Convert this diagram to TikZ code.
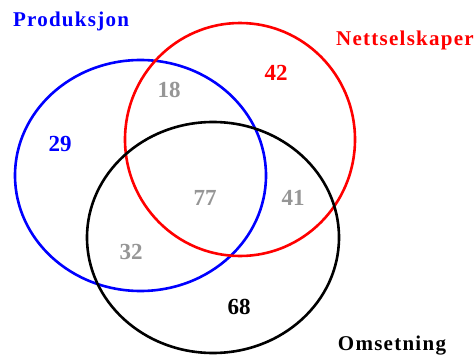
\documentclass[tikz,border=0pt]{standalone}
\usepackage{fontspec}
\setmainfont{Liberation Serif}
\newfontfamily\lblfont[LetterSpace=6]{Liberation Serif}
\definecolor{numgray}{RGB}{150,150,150}
\tikzset{
  ring/.style={line width=2.6pt},
  lbl/.style={font=\lblfont\fontsize{21}{21}\selectfont\bfseries, inner sep=0pt},
  num/.style={font=\fontsize{23}{23}\selectfont\bfseries, inner sep=0pt},
}
\begin{document}
\begin{tikzpicture}[x=1pt,y=-1pt]
\useasboundingbox (0,0) rectangle (474,356);
\fill[white] (0,0) rectangle (474,356);
\draw[ring, blue] (140.5,175.5) ellipse [x radius=125.5, y radius=115.5];
\draw[ring, red] (240,139.5) ellipse [x radius=115, y radius=116.5];
\draw[ring, black] (213,237.5) ellipse [x radius=126, y radius=115.5];
\node[lbl, blue, anchor=base] (prod) at (71,27) {Produksjon};
\node[lbl, red, anchor=base] (nett) at (405,45) {Nettselskaper};
\node[lbl, black, anchor=base] (oms) at (392,350) {Omsetning};
\node[num, blue] (n29) at (60,144) {29};
\node[num, red] (n42) at (276,73) {42};
\node[num, numgray] (n18) at (169,90) {18};
\node[num, numgray] (n77) at (205,198) {77};
\node[num, numgray] (n41) at (293,198) {41};
\node[num, numgray] (n32) at (131,252) {32};
\node[num, black] (n68) at (239,307) {68};
\end{tikzpicture}
\end{document}
